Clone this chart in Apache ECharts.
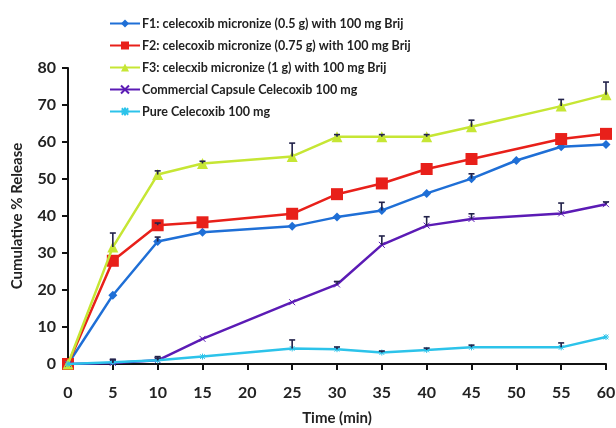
<!DOCTYPE html>
<html>
<head>
<meta charset="utf-8">
<script src="https://cdn.jsdelivr.net/npm/echarts@6/dist/echarts.min.js"></script>
<style>
html, body { margin: 0; padding: 0; background: #fff; }
#chart { width: 616px; height: 428px; }
</style>
</head>
<body>
<div id="chart"></div>
<script>
// time points (min); only F1 was sampled at 50 min
const times = [0, 5, 10, 15, 25, 30, 35, 40, 45, 50, 55, 60]
const seriesNames = [
  'F1: celecoxib micronize (0.5 g) with 100 mg Brij',
  'F2: celecoxib micronize (0.75 g) with 100 mg Brij',
  'F3: celecxib micronize (1 g) with 100 mg Brij',
  'Commercial Capsule Celecoxib 100 mg',
  'Pure Celecoxib 100 mg'
]
const f1 = [0, 18.6, 33.1, 35.6, 37.2, 39.7, 41.5, 46.1, 50.1, 55.0, 58.7, 59.3]
const f2 = [0, 27.9, 37.5, 38.3, 40.6, 45.9, 48.8, 52.7, 55.4, null, 60.8, 62.2]
const f3 = [0, 31.6, 51.2, 54.2, 56.1, 61.4, 61.4, 61.4, 64.1, null, 69.7, 72.8]
const commercial = [0, 0.3, 1.0, 6.8, 16.7, 21.5, 32.2, 37.4, 39.2, null, 40.7, 43.2]
const pure = [0, 0.5, 1.0, 2.0, 4.2, 4.0, 3.1, 3.8, 4.5, null, 4.5, 7.3]
// upper error bar (SD)
const f1Err = [0, 0, 1.2, 0, 0, 0, 2.2, 0, 1.3, 0, 0, 0]
const f2Err = [0, 0, 0.6, 0, 0, 0, 0, 0, 0, null, 0, 0]
const f3Err = [0, 3.8, 1.0, 0.6, 3.6, 0.6, 0.6, 0.6, 1.8, null, 1.8, 3.4]
const comErr = [0, 0.8, 1.0, 0, 0, 0.8, 2.4, 2.4, 1.4, null, 2.8, 0.6]
const pureErr = [0, 0.8, 0.6, 0, 2.3, 0.6, 0.4, 0.5, 0.6, null, 1.2, 0]

const colors = ['#1f6fd6', '#e8201a', '#c6e634', '#5b1bb5', '#2cc3ea']
const symbols = [
  'diamond',
  'rect',
  'triangle',
  'path://M0,0 L10,10 M10,0 L0,10',
  'path://M5,0 L5,10 M0,5 L10,5 M1,1 L9,9 M9,1 L1,9'
]
const symbolSizes = [9, 12, 11, 6, 6]
const values = [f1, f2, f3, commercial, pure]
const errs = [f1Err, f2Err, f3Err, comErr, pureErr]

const pair = (arr) => times.map((t, i) => [t, arr[i]])

const lineSeries = values.map((v, k) => ({
  name: seriesNames[k],
  type: 'line',
  data: pair(v),
  connectNulls: true,
  symbol: symbols[k],
  symbolSize: symbolSizes[k],
  showSymbol: true,
  color: colors[k],
  lineStyle: { width: 2.5, color: colors[k] },
  itemStyle: { color: colors[k], borderColor: colors[k], borderWidth: k >= 3 ? 1 : 0 },
  z: 3 + k
}))

const errData = []
errs.forEach((e, k) => {
  e.forEach((d, i) => {
    if (d && values[k][i] != null) errData.push([times[i], values[k][i], values[k][i] + d])
  })
})

const errSeries = {
  type: 'custom',
  silent: true,
  z: 10,
  data: errData,
  encode: { x: 0, y: [1, 2] },
  renderItem: function(params, api) {
    const lo = api.coord([api.value(0), api.value(1)])
    const hi = api.coord([api.value(0), api.value(2)])
    const style = { stroke: '#22224a', lineWidth: 1.6 }
    return {
      type: 'group',
      children: [
        { type: 'line', shape: { x1: lo[0], y1: lo[1], x2: hi[0], y2: hi[1] }, style: style },
        { type: 'line', shape: { x1: hi[0] - 3, y1: hi[1], x2: hi[0] + 3, y2: hi[1] }, style: style }
      ]
    }
  }
}

const chart = echarts.init(document.getElementById('chart'))
chart.setOption({
  backgroundColor: '#fff',
  animation: false,
  textStyle: { fontFamily: 'Lato' },
  grid: { left: 68, right: 10, top: 68, bottom: 64, containLabel: false, outerBoundsMode: 'none' },
  legend: {
    orient: 'vertical',
    left: 104,
    top: 12,
    itemGap: 9,
    itemWidth: 30,
    itemHeight: 10,
    data: seriesNames,
    textStyle: { fontFamily: 'Lato', fontSize: 12.5, fontWeight: 'bold', color: '#222', padding: [0, 0, 0, -3] }
  },
  xAxis: {
    type: 'value',
    min: 0,
    max: 60,
    interval: 5,
    name: 'Time (min)',
    nameLocation: 'middle',
    nameGap: 47,
    nameTextStyle: { fontFamily: 'Lato', fontSize: 15, fontWeight: 'bold', color: '#222' },
    axisLine: { lineStyle: { color: '#111', width: 2 } },
    axisTick: { show: true, length: 6, lineStyle: { color: '#111', width: 2 } },
    axisLabel: { margin: 21, fontFamily: 'Lato', fontSize: 16, fontWeight: 'bold', color: '#222' },
    splitLine: { show: false }
  },
  yAxis: {
    type: 'value',
    min: 0,
    max: 80,
    interval: 10,
    name: 'Cumulative % Release',
    nameLocation: 'middle',
    nameGap: 43,
    nameTextStyle: { fontFamily: 'Lato', fontSize: 15, fontWeight: 'bold', color: '#222' },
    axisLine: { show: true, lineStyle: { color: '#111', width: 2 } },
    axisTick: { show: true, length: 6, lineStyle: { color: '#111', width: 2 } },
    axisLabel: { margin: 12, fontFamily: 'Lato', fontSize: 16, fontWeight: 'bold', color: '#222' },
    splitLine: { show: false }
  },
  series: [...lineSeries, errSeries]
})
</script>
</body>
</html>
